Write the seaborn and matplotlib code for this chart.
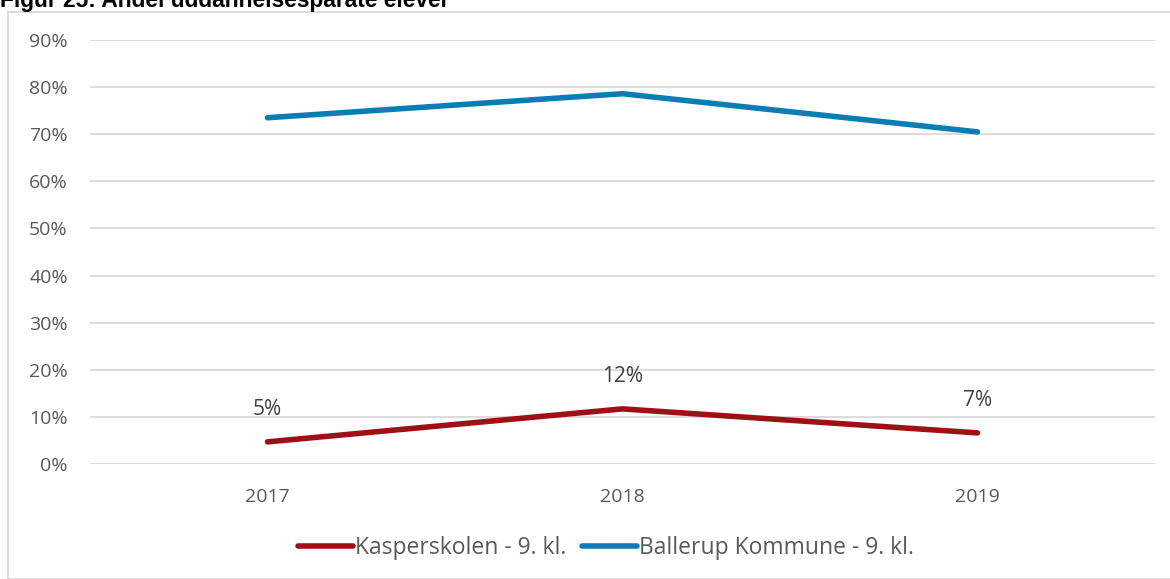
import matplotlib
matplotlib.use("Agg")
import matplotlib.pyplot as plt
import seaborn as sns
import pandas as pd
from matplotlib.patches import Rectangle
from matplotlib.ticker import PercentFormatter

years = ["2017", "2018", "2019"]
kasper = [0.047, 0.117, 0.066]
ballerup = [0.735, 0.786, 0.705]
kasper_labels = ["5%", "12%", "7%"]
series_names = ["Kasperskolen - 9. kl.", "Ballerup Kommune - 9. kl."]
title = "Figur 25: Andel uddannelsesparate elever"

df = pd.DataFrame({
    "year": years * 2,
    "value": kasper + ballerup,
    "series": [series_names[0]] * 3 + [series_names[1]] * 3,
})
df["x"] = df["year"].map({y: i for i, y in enumerate(years)})

sns.set_theme(style="white")
plt.rcParams["font.family"] = ["Open Sans", "DejaVu Sans"]

fig = plt.figure(figsize=(11.7, 5.79), dpi=100)
ax = fig.add_axes([90 / 1170, 1 - 464 / 579, (1155 - 90) / 1170, (464 - 40) / 579])

palette = {series_names[0]: "#9e1016", series_names[1]: "#0a7db4"}
sns.lineplot(data=df, x="x", y="value", hue="series", palette=palette,
             linewidth=4, ax=ax, legend=True, solid_capstyle="round")

for i, (v, lab) in enumerate(zip(kasper, kasper_labels)):
    ax.annotate(lab, (i, v), xytext=(0, 23), textcoords="offset points",
                ha="center", va="center", fontsize=15, color="#404040")

ax.set_xlim(-0.5, 2.5)
ax.set_ylim(0, 0.9)
ax.set_yticks([i / 10 for i in range(10)])
ax.yaxis.set_major_formatter(PercentFormatter(1.0, decimals=0))
ax.set_xticks(range(len(years)))
ax.set_xticklabels(years)
ax.grid(axis="y", color="#d9d9d9", linewidth=1.3)
ax.set_axisbelow(True)
for s in ax.spines.values():
    s.set_visible(False)
ax.tick_params(axis="both", length=0, labelsize=14, labelcolor="#595959")
ax.tick_params(axis="y", pad=16)
ax.tick_params(axis="x", pad=17)
ax.set_xlabel("")
ax.set_ylabel("")

leg = ax.legend(loc="center", bbox_to_anchor=(606 / 1170, 1 - 548 / 579),
                bbox_transform=fig.transFigure, ncol=2, frameon=False,
                fontsize=16.5, handlelength=2.4, handletextpad=0.1,
                columnspacing=0.7)
for t in leg.get_texts():
    t.set_color("#595959")
for h in leg.get_lines():
    h.set_linewidth(4)

fig.patches.append(Rectangle((8 / 1170, 0), 1.5, 1 - 12 / 579,
                             transform=fig.transFigure, fill=False,
                             edgecolor="#d9d9d9", linewidth=1.3))

fig.text(0, 1 - 7 / 579, title, ha="left", va="baseline", fontsize=16.4,
         fontweight="bold", family=["Liberation Sans", "DejaVu Sans"], color="black")

fig.savefig("out.png", dpi=100)
